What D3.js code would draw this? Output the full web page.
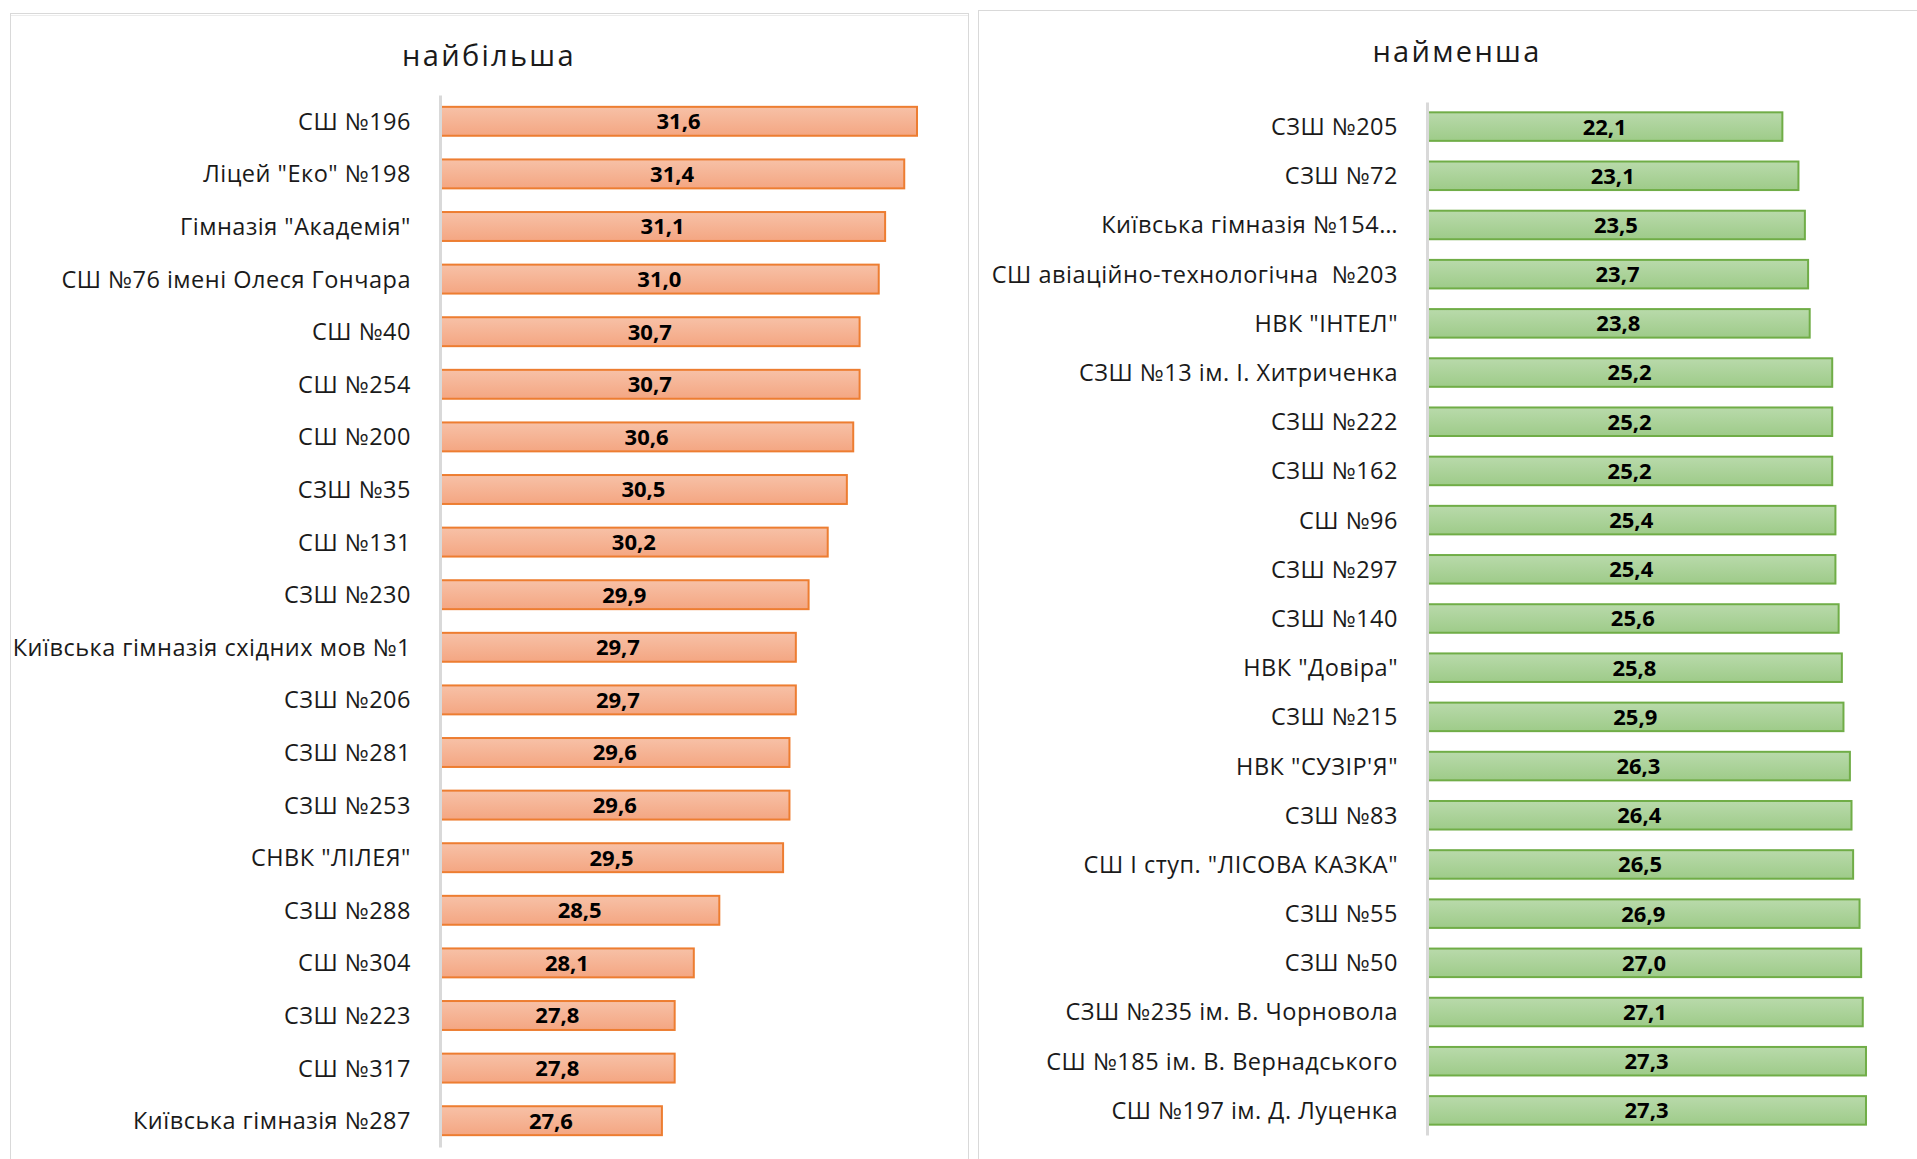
<!DOCTYPE html>
<html>
<head><meta charset="utf-8">
<title>Наповнюваність класів</title>
<style>
body {
  margin: 0;
  background-color: #fff;
}
svg {
  display: block;
  font-family: "Open Sans", sans-serif;
}
.tick text {
  white-space: pre;
}
</style>
</head>
<body>

<svg width="1917" height="1159"></svg>

<script src="https://d3js.org/d3.v7.min.js"></script>
<script>
// найбільша
var maxNames = [
  "СШ №196", "Ліцей \"Еко\" №198", "Гімназія \"Академія\"", "СШ №76 імені Олеся Гончара",
  "СШ №40", "СШ №254", "СШ №200", "СЗШ №35", "СШ №131", "СЗШ №230",
  "Київська гімназія східних мов №1", "СЗШ №206", "СЗШ №281", "СЗШ №253",
  "СНВК \"ЛІЛЕЯ\"", "СЗШ №288", "СШ №304", "СЗШ №223", "СШ №317", "Київська гімназія №287"
];
var maxValues = [31.6, 31.4, 31.1, 31.0, 30.7, 30.7, 30.6, 30.5, 30.2, 29.9,
  29.7, 29.7, 29.6, 29.6, 29.5, 28.5, 28.1, 27.8, 27.8, 27.6];

// найменша
var minNames = [
  "СЗШ №205", "СЗШ №72", "Київська гімназія №154…", "СШ авіаційно-технологічна  №203",
  "НВК \"ІНТЕЛ\"", "СЗШ №13 ім. І. Хитриченка", "СЗШ №222", "СЗШ №162", "СШ №96",
  "СЗШ №297", "СЗШ №140", "НВК \"Довіра\"", "СЗШ №215", "НВК \"СУЗІР'Я\"", "СЗШ №83",
  "СШ І ступ. \"ЛІСОВА КАЗКА\"", "СЗШ №55", "СЗШ №50", "СЗШ №235 ім. В. Чорновола",
  "СШ №185 ім. В. Вернадського", "СШ №197 ім. Д. Луценка"
];
var minValues = [22.1, 23.1, 23.5, 23.7, 23.8, 25.2, 25.2, 25.2, 25.4, 25.4, 25.6,
  25.8, 25.9, 26.3, 26.4, 26.5, 26.9, 27.0, 27.1, 27.3, 27.3];

var maxDomain = [24.12, 31.6];
var minDomain = [0, 30];

var svg = d3.select("svg");
var defs = svg.append("defs");

addGradient("gradOrange", "#f7c1a7", "#f4a682");
addGradient("gradGreen", "#b9daab", "#9ecb89");

// panel frames
svg.append("rect")
  .attr("x", 10.5).attr("y", 13.5)
  .attr("width", 958).attr("height", 1200)
  .attr("fill", "none").attr("stroke", "#d9d9d9");
svg.append("line")
  .attr("x1", 11).attr("x2", 968).attr("y1", 15.5).attr("y2", 15.5)
  .attr("stroke", "#ececec");
svg.append("rect")
  .attr("x", 978.5).attr("y", 10.5)
  .attr("width", 1000).attr("height", 1200)
  .attr("fill", "none").attr("stroke", "#d9d9d9");

drawChart({
  names: maxNames, values: maxValues, title: "найбільша",
  titleX: 489, titleY: 66,
  x: d3.scaleLinear().domain(maxDomain).range([440, 917]),
  yRange: [95, 1147], padding: 0.45,
  fill: "url(#gradOrange)", stroke: "#ed7d31"
});

drawChart({
  names: minNames, values: minValues, title: "найменша",
  titleX: 1457, titleY: 62,
  x: d3.scaleLinear().domain(minDomain).range([1427, 1427 + 30 * 16.08]),
  yRange: [102, 1135], padding: 0.42,
  fill: "url(#gradGreen)", stroke: "#70ad47"
});

function drawChart(o) {
  var y = d3.scaleBand()
    .domain(o.names)
    .range(o.yRange)
    .paddingInner(o.padding)
    .paddingOuter(o.padding / 2);
  var x0 = o.x.range()[0];
  var g = svg.append("g");

  g.append("text")
    .attr("x", o.titleX).attr("y", o.titleY)
    .attr("text-anchor", "middle")
    .attr("font-size", 29)
    .attr("letter-spacing", 2.3)
    .attr("fill", "#1a1a1a")
    .text(o.title);

  var data = o.names.map(function(n, i) { return {name: n, value: o.values[i]}; });

  g.selectAll("rect.bar")
    .data(data)
    .enter().append("rect")
      .attr("class", "bar")
      .attr("x", x0)
      .attr("y", function(d) { return y(d.name); })
      .attr("width", function(d) { return o.x(d.value) - x0; })
      .attr("height", y.bandwidth())
      .attr("fill", o.fill)
      .attr("stroke", o.stroke)
      .attr("stroke-width", 2);

  g.selectAll("text.val")
    .data(data)
    .enter().append("text")
      .attr("class", "val")
      .attr("x", function(d) { return (x0 + o.x(d.value)) / 2; })
      .attr("y", function(d) { return y(d.name) + y.bandwidth() / 2; })
      .attr("dy", "0.36em")
      .attr("text-anchor", "middle")
      .attr("font-size", 22)
      .attr("font-weight", "bold")
      .attr("fill", "#000")
      .text(function(d) { return d3.format(".1f")(d.value).replace(".", ","); });

  // category axis, labels only
  var axis = g.append("g")
    .attr("transform", "translate(" + x0 + ",0)")
    .call(d3.axisLeft(y).tickSize(0).tickPadding(29));
  axis.select(".domain")
    .attr("stroke", "#d9d9d9")
    .attr("stroke-width", 3);
  axis.selectAll(".tick text")
    .attr("font-family", "\"Open Sans\", sans-serif")
    .attr("font-size", 23.5)
    .attr("letter-spacing", 0.5)
    .attr("fill", "#1a1a1a")
    .attr("dy", "0.36em");
}

function addGradient(id, top, bottom) {
  var lg = defs.append("linearGradient")
    .attr("id", id)
    .attr("x1", 0).attr("y1", 0).attr("x2", 0).attr("y2", 1);
  lg.append("stop").attr("offset", "0%").attr("stop-color", top);
  lg.append("stop").attr("offset", "100%").attr("stop-color", bottom);
}
</script>
</body>
</html>
